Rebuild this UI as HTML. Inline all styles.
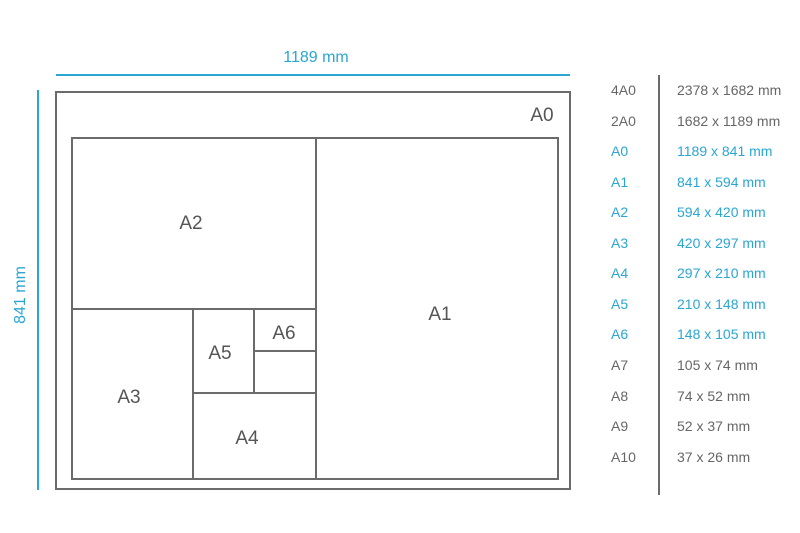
<!DOCTYPE html>
<html><head><meta charset="utf-8"><style>
html,body{margin:0;padding:0;background:#fff;}
svg{display:block;}
text{font-family:"Liberation Sans",sans-serif;}
</style></head><body>
<svg width="800" height="533" viewBox="0 0 800 533" xmlns="http://www.w3.org/2000/svg">
<g stroke="#2aa6d3" stroke-width="2" fill="none">
<line x1="56" y1="75" x2="570" y2="75"/>
<line x1="38" y1="90" x2="38" y2="490"/>
</g>
<text x="316" y="62" font-size="16" fill="#2aa6d3" text-anchor="middle">1189 mm</text>
<text transform="translate(25,295) rotate(-90)" font-size="16" fill="#2aa6d3" text-anchor="middle">841 mm</text>
<g stroke="#6b6b6b" stroke-width="2" fill="none">
<rect x="56" y="92" width="514" height="397"/>
<rect x="72" y="138" width="486" height="341"/>
<line x1="316" y1="138" x2="316" y2="479"/>
<line x1="72" y1="309" x2="316" y2="309"/>
<line x1="193" y1="309" x2="193" y2="479"/>
<line x1="193" y1="393" x2="316" y2="393"/>
<line x1="254" y1="309" x2="254" y2="393"/>
<line x1="254" y1="351" x2="316" y2="351"/>
</g>
<g font-size="19" fill="#555" text-anchor="middle">
<text x="542" y="121">A0</text>
<text x="191" y="229">A2</text>
<text x="440" y="320">A1</text>
<text x="129" y="403">A3</text>
<text x="220" y="359">A5</text>
<text x="284" y="339">A6</text>
<text x="247" y="444">A4</text>
</g>
<line x1="659" y1="75" x2="659" y2="495" stroke="#6b6b6b" stroke-width="2"/>
<g font-size="14">
<text x="611" y="95" fill="#666">4A0</text><text x="677" y="95" fill="#666">2378 x 1682 mm</text>
<text x="611" y="126" fill="#666">2A0</text><text x="677" y="126" fill="#666">1682 x 1189 mm</text>
<text x="611" y="156" fill="#2aa6d3">A0</text><text x="677" y="156" fill="#2aa6d3">1189 x 841 mm</text>
<text x="611" y="187" fill="#2aa6d3">A1</text><text x="677" y="187" fill="#2aa6d3">841 x 594 mm</text>
<text x="611" y="217" fill="#2aa6d3">A2</text><text x="677" y="217" fill="#2aa6d3">594 x 420 mm</text>
<text x="611" y="248" fill="#2aa6d3">A3</text><text x="677" y="248" fill="#2aa6d3">420 x 297 mm</text>
<text x="611" y="278" fill="#2aa6d3">A4</text><text x="677" y="278" fill="#2aa6d3">297 x 210 mm</text>
<text x="611" y="309" fill="#2aa6d3">A5</text><text x="677" y="309" fill="#2aa6d3">210 x 148 mm</text>
<text x="611" y="339" fill="#2aa6d3">A6</text><text x="677" y="339" fill="#2aa6d3">148 x 105 mm</text>
<text x="611" y="370" fill="#666">A7</text><text x="677" y="370" fill="#666">105 x 74 mm</text>
<text x="611" y="401" fill="#666">A8</text><text x="677" y="401" fill="#666">74 x 52 mm</text>
<text x="611" y="431" fill="#666">A9</text><text x="677" y="431" fill="#666">52 x 37 mm</text>
<text x="611" y="462" fill="#666">A10</text><text x="677" y="462" fill="#666">37 x 26 mm</text>
</g>
</svg>
</body></html>
